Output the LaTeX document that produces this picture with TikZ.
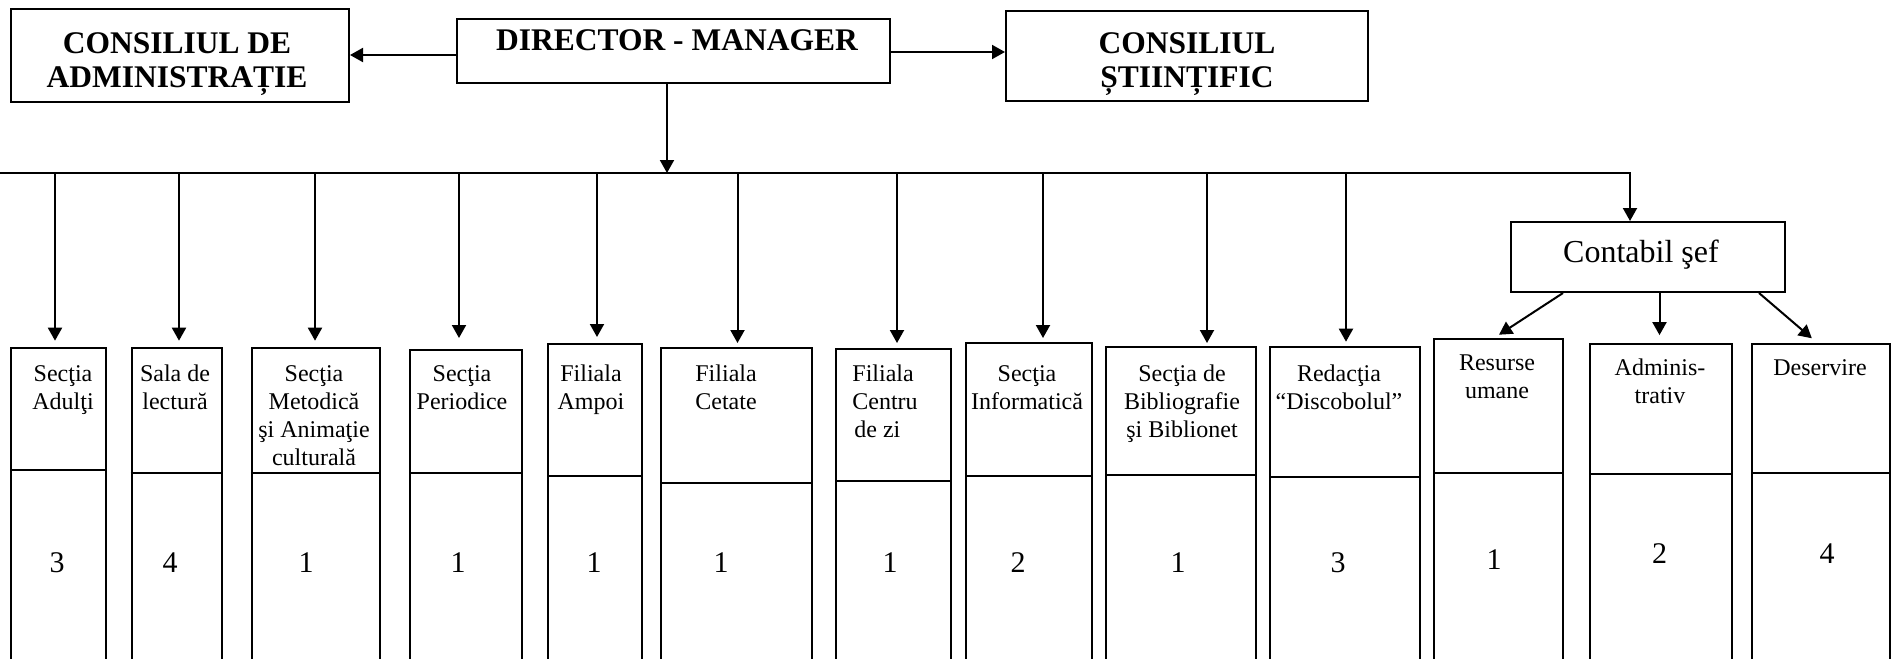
\documentclass[tikz,border=0pt]{standalone}
\usepackage{fontspec}
\setmainfont{Liberation Serif}
\usetikzlibrary{arrows.meta}
\tikzset{
  box/.style={draw, line width=1pt, inner sep=0pt, anchor=north west},
  conn/.style={line width=1pt},
  arr/.style={conn, -{Triangle[length=6.5pt,width=7pt]}},
  lab/.style={font=\fontsize{12}{14}\selectfont, align=center, anchor=base, inner sep=0pt},
  num/.style={font=\fontsize{15}{18}\selectfont, inner sep=0pt},
  big/.style={font=\bfseries\fontsize{15.75}{17}\selectfont, align=center, anchor=base, inner sep=0pt},
}
\newcommand\colbox[5]{%
  \node[box, minimum width={(#3-#2)*0.5pt}, minimum height={(720-#4)*0.5pt}] (#1) at (#2,#4) {};
  \draw[conn] (#1.west |- 0,#5) -- (#1.east |- 0,#5);
}
\newcommand\feed[3]{%
  \coordinate (f-#1) at (#2,173);
  \draw[arr, shorten >=#3pt] (f-#1) -- (f-#1 |- #1.north);
}
\begin{document}
\begin{tikzpicture}[x=0.5pt,y=-0.5pt]
\useasboundingbox (0,0) rectangle (1892,659);
\clip (0,0) rectangle (1892,659);

% top boxes
\node[box, minimum width=169pt, minimum height=46.3pt] (admin) at (10,8) {};
\node[box, minimum width=216.5pt, minimum height=32pt] (director) at (456,18) {};
\node[box, minimum width=181pt, minimum height=45pt] (stiint) at (1005,10) {};
\node[box, minimum width=137.25pt, minimum height=35pt] (contabil) at (1509.5,221) {};

% (anchor=base of a multi-line node is the baseline of its last line)
\node[big] (t-admin) at (177,87) {CONSILIUL DE\\ADMINISTRAȚIE};
\node[big] (t-dir) at (677,50) {DIRECTOR - MANAGER};
\node[big] (t-stiint) at (1187,87) {CONSILIUL\\ȘTIINȚIFIC};
\node[font=\fontsize{16}{19}\selectfont, anchor=base, inner sep=0pt] (t-cont) at (1641,262) {Contabil şef};

% connectors from director
\draw[arr] (director.west |- 0,55) -- (admin.east |- 0,55);
\draw[arr] (director.east |- 0,52) -- (stiint.west |- 0,52);
\coordinate (busjoin) at (667,173);
\coordinate (busL) at (0,173);
\coordinate (busR) at (1630,173);
\draw[arr] (director.south -| busjoin) -- (busjoin);
\draw[arr] (busL) -- (busR) -- (busR |- contabil.north);

% columns
\colbox{adulti}{10.4}{104.5}{346.7}{470}
\colbox{sala}{130.6}{221}{346.7}{472.7}
\colbox{metodica}{250.8}{378.5}{346.7}{472.7}
\colbox{periodice}{409}{520.7}{349}{472.7}
\colbox{ampoi}{547}{640.5}{343}{476}
\colbox{cetate}{660}{810.7}{347}{482.7}
\colbox{centru}{835}{950}{348}{480.7}
\colbox{informatica}{965}{1091}{342}{476}
\colbox{biblio}{1105}{1255}{346}{475}
\colbox{redactia}{1269}{1419}{345.7}{476.7}
\colbox{resurse}{1433}{1561.6}{338}{472.7}
\colbox{admv}{1589}{1731}{342.7}{474}
\colbox{deserv}{1751}{1889}{342.7}{472.7}

\feed{adulti}{55}{3}
\feed{sala}{179}{3}
\feed{metodica}{315}{3}
\feed{periodice}{459}{5.5}
\feed{ampoi}{597}{3}
\feed{cetate}{737.5}{2}
\feed{centru}{897}{2.5}
\feed{informatica}{1043}{2}
\feed{biblio}{1207}{1.5}
\feed{redactia}{1346}{2}

\draw[arr, shorten >=3pt] (contabil.south -| 1563,0) -- (resurse.north -| 1494,0);
\draw[arr, shorten >=3.8pt] (contabil.south -| 1659.5,0) -- (admv.north -| 1659.5,0);
\draw[arr, shorten >=3.4pt] (contabil.south -| 1759,0) -- (deserv.north -| 1817,0);

% labels (y = baseline of last line)
\node[lab] (l-adulti) at (63,409.7) {Secţia\\Adulţi};
\node[lab] (l-sala) at (175,409.7) {Sala de\\lectură};
\node[lab] (l-metodica) at (314,465.7) {Secţia\\Metodică\\şi Animaţie\\culturală};
\node[lab] (l-periodice) at (462,409.7) {Secţia\\Periodice};
\node[lab] (l-ampoi) at (591,409.7) {Filiala\\Ampoi};
\node[lab, align=left, anchor=base west] (l-cetate) at (695,409.7) {Filiala\\Cetate};
\node[lab, align=left, anchor=base west] (l-centru) at (852,437.7) {Filiala\\Centru\\\hspace{1pt}de zi};
\node[lab] (l-informatica) at (1027,409.7) {Secţia\\Informatică};
\node[lab] (l-biblio) at (1182,437.7) {Secţia de\\Bibliografie\\şi Biblionet};
\node[lab] (l-redactia) at (1339,409.7) {Redacţia\\“Discobolul”};
\node[lab] (l-resurse) at (1497,398.7) {Resurse\\umane};
\node[lab] (l-admv) at (1660,403) {Adminis-\\trativ};
\node[lab] (l-deserv) at (1820,375) {Deservire};

% numbers
\node[num] (n-adulti) at (57,563) {3};
\node[num] (n-sala) at (170,563) {4};
\node[num] (n-metodica) at (306,563) {1};
\node[num] (n-periodice) at (458,563) {1};
\node[num] (n-ampoi) at (594,563) {1};
\node[num] (n-cetate) at (721,563) {1};
\node[num] (n-centru) at (890,563) {1};
\node[num] (n-informatica) at (1018,563) {2};
\node[num] (n-biblio) at (1178,563) {1};
\node[num] (n-redactia) at (1338,563) {3};
\node[num] (n-resurse) at (1494,560) {1};
\node[num] (n-admv) at (1659.5,554) {2};
\node[num] (n-deserv) at (1827,554) {4};
\end{tikzpicture}
\end{document}
